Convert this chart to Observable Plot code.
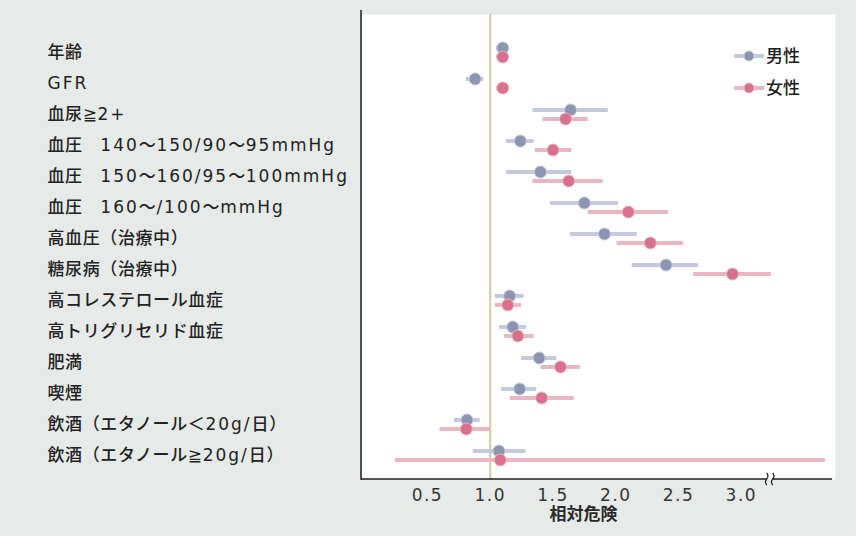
<!DOCTYPE html>
<html><head><meta charset="utf-8">
<script src="https://cdn.jsdelivr.net/npm/d3@7"></script>
<script src="https://cdn.jsdelivr.net/npm/@observablehq/plot@0.6"></script>
<style>
html,body{margin:0;padding:0;background:#e6ebe9;}
#chart{width:856px;height:536px;}
svg{display:block;}
</style></head><body><div id="chart"></div>
<script>
const categories = ["年齢","GFR","血尿≧2+","血圧　140～150/90～95mmHg","血圧　150～160/95～100mmHg","血圧　160～/100～mmHg","高血圧（治療中）","糖尿病（治療中）","高コレステロール血症","高トリグリセリド血症","肥満","喫煙","飲酒（エタノール＜20g/日）","飲酒（エタノール≧20g/日）"];
const series = ["男性","女性"];
const maleRR = [1.10, 0.88, 1.64, 1.24, 1.40, 1.75, 1.91, 2.40, 1.155, 1.18, 1.39, 1.235, 0.815, 1.07];
const maleLo = [1.05, 0.81, 1.34, 1.13, 1.13, 1.48, 1.64, 2.13, 1.04, 1.075, 1.25, 1.09, 0.715, 0.865];
const maleHi = [1.15, 0.95, 1.94, 1.35, 1.65, 2.02, 2.17, 2.66, 1.27, 1.29, 1.53, 1.37, 0.92, 1.285];
const femaleRR = [1.10, 1.10, 1.60, 1.50, 1.625, 2.10, 2.275, 2.93, 1.14, 1.22, 1.56, 1.41, 0.81, 1.08];
const femaleLo = [1.05, 1.05, 1.42, 1.36, 1.34, 1.78, 2.01, 2.62, 1.04, 1.115, 1.405, 1.16, 0.60, 0.245];
const femaleHi = [1.15, 1.15, 1.78, 1.65, 1.90, 2.42, 2.54, 3.24, 1.25, 1.35, 1.72, 1.67, 1.00, 3.67];
const xTicks = [0.5, 1.0, 1.5, 2.0, 2.5, 3.0];
const xLabel = "相対危険";
const refValue = 1.0;
const axisBreak = 3.23;

const rows = [];
categories.forEach((c, i) => {
  rows.push({cat: c, sex: "男性", rr: maleRR[i], lo: maleLo[i], hi: maleHi[i]});
  rows.push({cat: c, sex: "女性", rr: femaleRR[i], lo: femaleLo[i], hi: femaleHi[i]});
});

const colors = {"男性": {dot: "#8d95b1", bar: "#c3c9de"}, "女性": {dot: "#d7718d", bar: "#ebb6c4"}};
const offsets = {"男性": -4.5, "女性": 4.5};
const FONT = "'DejaVu Sans','Noto Sans CJK JP',sans-serif";

function frameLines(index, scales, values, dim) {
  const {width, height, marginLeft, marginRight, marginTop, marginBottom} = dim;
  const left = marginLeft, right = width - marginRight, bottom = height - marginBottom;
  const g = d3.create("svg:g");
  const bx = scales.x(axisBreak);
  g.append("line").attr("x1", left).attr("x2", left).attr("y1", marginTop - 4).attr("y2", bottom + 0.75)
    .attr("stroke", "#1c1c1c").attr("stroke-width", 1.5);
  g.append("line").attr("x1", left).attr("x2", bx - 3).attr("y1", bottom).attr("y2", bottom)
    .attr("stroke", "#1c1c1c").attr("stroke-width", 1.5);
  g.append("line").attr("x1", bx + 3).attr("x2", right - 3).attr("y1", bottom).attr("y2", bottom)
    .attr("stroke", "#1c1c1c").attr("stroke-width", 1.5);
  for (const off of [-3, 3]) {
    g.append("path")
      .attr("d", `M${bx + off},${bottom - 6} q2.5,3 0,6 q-2.5,3 0,6`)
      .attr("fill", "none").attr("stroke", "#1c1c1c").attr("stroke-width", 1.2);
  }
  return g.node();
}

function legend(index, scales, values, dim) {
  const {width, marginRight, marginTop} = dim;
  const right = width - marginRight;
  const g = d3.create("svg:g");
  series.forEach((s, i) => {
    const cy = marginTop + 42 + i * 32;
    const cx = right - 86;
    g.append("line").attr("x1", cx - 15).attr("x2", cx + 15).attr("y1", cy).attr("y2", cy)
      .attr("stroke", colors[s].bar).attr("stroke-width", 4);
    g.append("circle").attr("cx", cx).attr("cy", cy).attr("r", 5)
      .attr("fill", colors[s].dot).attr("stroke", colors[s].bar).attr("stroke-width", 1);
    g.append("text").attr("x", right - 52).attr("y", cy).attr("dy", "0.35em")
      .attr("font-size", 17).attr("font-weight", 500).attr("fill", "#1e1e1e")
      .attr("font-family", FONT).text(s);
  });
  return g.node();
}

const plot = Plot.plot({
  width: 856, height: 536,
  marginLeft: 361, marginRight: 21, marginTop: 14, marginBottom: 57,
  style: {background: "transparent", fontFamily: FONT, color: "#333"},
  x: {domain: [-0.025, 3.75]},
  y: {type: "point", domain: categories, padding: 0.5, insetTop: 20, insetBottom: 6, axis: null},
  marks: [
    Plot.frame({fill: "white", stroke: null}),
    Plot.ruleX([refValue], {stroke: "#d8c7a3", strokeWidth: 2}),
    ...series.map(s => Plot.ruleY(rows.filter(d => d.sex === s), {
      y: "cat", x1: "lo", x2: "hi", dy: offsets[s], stroke: colors[s].bar, strokeWidth: 4
    })),
    ...series.map(s => Plot.dot(rows.filter(d => d.sex === s), {
      x: "rr", y: "cat", dy: offsets[s], r: 6, fill: colors[s].dot, stroke: colors[s].bar, strokeWidth: 1
    })),
    Plot.axisX({ticks: xTicks, tickSize: 0, tickPadding: 9, tickFormat: d3.format(".1f"),
      fontSize: 17, label: null, fill: "#333"}),
    Plot.text([xLabel], {frameAnchor: "bottom", dx: -15, dy: 40, fontSize: 17, fontWeight: "bold", fill: "#2a2a2a"}),
    Plot.text(categories, {y: d => d, frameAnchor: "left", textAnchor: "start", dx: -314,
      fontSize: 17, fontWeight: 500, fill: "#222", className: "catlabel"}),
    frameLines,
    legend
  ]
});
const svg = d3.select(plot);
svg.selectAll('g[aria-label="x-axis tick label"] text').style("letter-spacing", "1.5px");
// widen latin runs inside category labels (wide gothic look of the original)
svg.selectAll("g.catlabel text").each(function() {
  const t = d3.select(this);
  const s = this.textContent;
  const parts = s.split(/([\x20-\x7E]+)/).filter(p => p.length);
  t.text(null);
  parts.forEach(p => {
    const latin = /^[\x20-\x7E]+$/.test(p);
    t.append("tspan").text(p).style("letter-spacing", latin ? "2px" : "0.6px");
  });
});
document.getElementById("chart").append(plot);
</script>
</body></html>
